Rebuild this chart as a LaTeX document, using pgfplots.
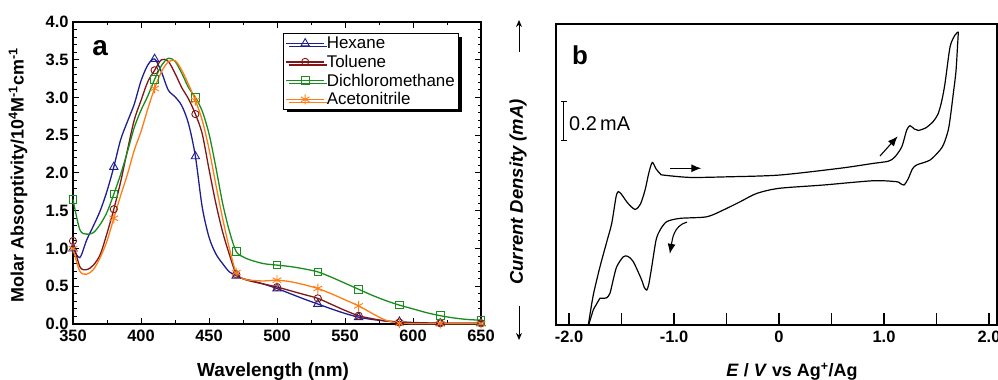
\documentclass[border=0pt]{standalone}
\usepackage{fontspec}
\setmainfont{Liberation Sans}
\usepackage{pgfplots}
\pgfplotsset{compat=1.18}
\usetikzlibrary{arrows.meta,shadows}
\definecolor{chex}{RGB}{30,30,145}
\definecolor{ctol}{RGB}{128,22,22}
\definecolor{cdcm}{RGB}{25,140,30}
\definecolor{cacn}{RGB}{255,125,20}
\newcommand\tl{\fontsize{16.5}{18}\selectfont\bfseries}
\begin{document}
\begin{tikzpicture}
\useasboundingbox (0,0) rectangle (998bp,380bp);
% ---------------- panel a ----------------
\begin{axis}[at={(73bp,56bp)}, anchor=south west, scale only axis,
  width=408bp, height=302bp,
  xmin=350, xmax=650, ymin=0, ymax=4,
  xtick={350,400,...,650}, xticklabels={350,400,450,500,550,600,650},
  ytick={0,0.5,...,4}, yticklabels={0.0,0.5,1.0,1.5,2.0,2.5,3.0,3.5,4.0},
  minor x tick num=1, minor y tick num=4,
  tick align=inside, major tick length=6bp, minor tick length=3.5bp,
  axis line style={line width=1.2bp}, every tick/.style={line width=1bp,black},
  tick label style={font=\tl},
  xticklabel style={yshift=-3bp}, yticklabel style={xshift=-1bp},
  mark indices={1,7,13,19,25,29,32,35,38,41,44},
  every axis plot/.append style={line width=1.3bp, smooth},
  legend image code/.code={\draw[#1,mark=none] (0bp,0bp) -- (38bp,0bp); \draw[#1] plot coordinates {(19bp,0bp)};},
  legend style={at={(rel axis cs:0.515,0.962)}, anchor=north west, draw=black, line width=0.8bp,
    fill=white, font=\fontsize{17}{19}\selectfont, inner xsep=2bp, inner ysep=1bp,
    row sep=1bp, legend cell align=left,
    drop shadow={shadow xshift=3bp, shadow yshift=-3bp, fill=black, opacity=1}},
  clip=false]
\addplot[chex, mark=triangle, mark size=4.8bp, mark options={fill=white, line width=0.9bp}] coordinates {
(350,1.00)(355,0.88)(360,1.11)(365,1.30)(370,1.50)(375,1.76)(380,2.08)(385,2.44)(390,2.68)(395,2.91)
(400,3.22)(405,3.43)(410,3.51)(415,3.34)(420,3.10)(425,3.01)(430,2.89)(435,2.65)(440,2.22)(445,1.55)
(450,1.15)(455,0.93)(460,0.80)(465,0.69)(470,0.64)(475,0.60)(480,0.58)(490,0.53)(500,0.47)(510,0.40)
(520,0.33)(530,0.265)(540,0.20)(550,0.14)(560,0.09)(570,0.06)(580,0.04)(590,0.03)(600,0.02)(610,0.015)
(620,0.01)(630,0.01)(640,0.01)(650,0.01)};
\addlegendentry{Hexane}
\addplot[ctol, mark=o, mark size=3.6bp, mark options={fill=white, line width=0.9bp}] coordinates {
(350,1.10)(355,0.76)(360,0.72)(365,0.78)(370,0.92)(375,1.20)(380,1.52)(385,1.88)(390,2.30)(395,2.70)
(400,2.96)(405,3.21)(410,3.36)(415,3.50)(420,3.48)(425,3.32)(430,3.13)(435,2.98)(440,2.78)(445,2.52)
(450,2.05)(455,1.60)(460,1.22)(465,0.92)(470,0.66)(475,0.60)(480,0.57)(490,0.53)(500,0.49)(510,0.44)
(520,0.39)(530,0.34)(540,0.26)(550,0.18)(560,0.11)(570,0.07)(580,0.04)(590,0.02)(600,0.01)(610,0.01)
(620,0.01)(630,0.01)(640,0.01)(650,0.01)};
\addlegendentry{Toluene}
\addplot[cdcm, mark=square, mark size=3.8bp, mark options={fill=white, line width=0.9bp}] coordinates {
(350,1.65)(355,1.25)(360,1.19)(365,1.21)(370,1.32)(375,1.48)(380,1.72)(385,1.98)(390,2.28)(395,2.60)
(400,2.83)(405,3.02)(410,3.24)(415,3.42)(420,3.52)(425,3.48)(430,3.32)(435,3.13)(440,3.00)(445,2.82)
(450,2.52)(455,2.08)(460,1.60)(465,1.23)(470,0.96)(475,0.89)(480,0.85)(490,0.80)(500,0.78)(510,0.76)
(520,0.73)(530,0.69)(540,0.62)(550,0.54)(560,0.46)(570,0.38)(580,0.31)(590,0.25)(600,0.20)(610,0.15)
(620,0.11)(630,0.08)(640,0.06)(650,0.05)};
\addlegendentry{Dichloromethane}
\addplot[cacn, mark=asterisk, mark size=5bp, mark options={line width=0.9bp}] coordinates {
(350,1.00)(355,0.70)(360,0.66)(365,0.72)(370,0.88)(375,1.10)(380,1.40)(385,1.70)(390,1.98)(395,2.30)
(400,2.55)(405,2.85)(410,3.12)(415,3.34)(420,3.47)(425,3.49)(430,3.36)(435,3.17)(440,2.96)(445,2.70)
(450,2.32)(455,1.85)(460,1.40)(465,1.00)(470,0.68)(475,0.60)(480,0.58)(490,0.57)(500,0.58)(510,0.56)
(520,0.52)(530,0.47)(540,0.40)(550,0.32)(560,0.24)(570,0.14)(580,0.05)(590,0.01)(600,0.005)(610,0.005)
(620,0.005)(630,0.005)(640,0.005)(650,0.005)};
\addlegendentry{Acetonitrile}
\node[font=\fontsize{28}{30}\selectfont\bfseries] at (axis cs:370,3.66) {a};
\end{axis}
\node[rotate=90, font=\fontsize{18}{20}\selectfont\bfseries] at (18bp,205bp)
  {Molar Absorptivity/10\textsuperscript{4}M\textsuperscript{-1}cm\textsuperscript{-1}};
\node[anchor=base, font=\fontsize{19}{21}\selectfont\bfseries] at (273bp,3.5bp) {Wavelength (nm)};
% ---------------- panel b ----------------
\begin{axis}[at={(556bp,55bp)}, anchor=south west, scale only axis,
  width=441bp, height=301bp,
  xmin=-2.124, xmax=2.076, ymin=0, ymax=1.544,
  xtick={-2,-1.5,...,2}, xticklabels={-2.0,,-1.0,,0,,1.0,,2.0},
  ytick=\empty, xtick pos=bottom,
  tick align=inside, major tick length=12bp,
  axis line style={line width=1.5bp}, every tick/.style={line width=1.4bp,black},
  tick label style={font=\tl}, xticklabel style={yshift=-3bp},
  clip=false]
\addplot[black, line width=1.2bp, smooth, tension=0.45] coordinates {
(-1.816,0.000)(-1.770,0.151)(-1.705,0.299)(-1.640,0.428)(-1.593,0.522)(-1.552,0.658)(-1.530,0.684)
(-1.500,0.670)(-1.440,0.625)(-1.371,0.593)(-1.320,0.620)(-1.276,0.692)(-1.240,0.780)(-1.207,0.834)
(-1.170,0.800)(-1.130,0.775)(-1.102,0.769)(-0.848,0.757)(-0.500,0.760)(0.000,0.769)(0.581,0.804)
(0.898,0.829)(1.040,0.840)(1.100,0.860)(1.169,0.914)(1.216,1.000)(1.248,1.022)(1.290,1.005)
(1.327,0.998)(1.400,1.012)(1.470,1.045)(1.517,1.086)(1.550,1.150)(1.581,1.240)(1.629,1.427)
(1.676,1.487)(1.708,1.504)};
\addplot[black, line width=1.2bp, smooth, tension=0.45] coordinates {
(1.708,1.504)(1.700,1.430)(1.685,1.300)(1.660,1.188)(1.635,1.080)(1.612,1.000)(1.570,0.930)
(1.533,0.897)(1.438,0.846)(1.311,0.821)(1.270,0.800)(1.230,0.750)(1.190,0.718)(1.150,0.728)
(1.121,0.735)(0.898,0.740)(0.422,0.718)(0.000,0.701)(-0.212,0.675)(-0.371,0.632)(-0.530,0.590)
(-0.689,0.555)(-0.943,0.547)(-1.070,0.530)(-1.133,0.487)(-1.171,0.436)(-1.212,0.299)(-1.240,0.210)
(-1.260,0.179)(-1.285,0.195)(-1.308,0.231)(-1.388,0.325)(-1.440,0.352)(-1.483,0.350)(-1.546,0.299)
(-1.580,0.230)(-1.610,0.163)(-1.640,0.140)(-1.680,0.137)(-1.705,0.137)(-1.740,0.105)(-1.769,0.077)
(-1.810,0.005)};
\node[font=\fontsize{26}{28}\selectfont\bfseries] at (axis cs:-1.895,1.385) {b};
\draw[line width=1bp] (axis cs:-2.048,0.944) -- (axis cs:-2.048,1.144)
  (axis cs:-2.075,0.944) -- (axis cs:-2.021,0.944)
  (axis cs:-2.075,1.144) -- (axis cs:-2.021,1.144);
\node[anchor=west, font=\fontsize{20}{22}\selectfont, inner sep=0pt] at (axis cs:-2.0,1.031) {0.2\,mA};
\draw[line width=1.1bp, -{Latex[length=10bp,width=8bp]}] (axis cs:-1.04,0.804) -- (axis cs:-0.74,0.804);
\draw[line width=1.1bp, -{Latex[length=10bp,width=8bp]}] (axis cs:-0.876,0.528) to[out=195,in=80] (axis cs:-1.04,0.365);
\draw[line width=1.1bp, -{Latex[length=10bp,width=8bp]}] (axis cs:0.962,0.867) -- (axis cs:1.13,0.968);
\end{axis}
\node[rotate=90, font=\fontsize{18.5}{20}\selectfont\bfseries\itshape] at (518bp,188bp) {Current Density (mA)};
\draw[line width=1bp, -{Stealth[length=7bp,width=6bp]}] (519bp,328bp) -- (519bp,360bp);
\draw[line width=1bp, -{Stealth[length=7bp,width=6bp]}] (519bp,74bp) -- (519bp,40bp);
\node[anchor=base, font=\fontsize{18}{20}\selectfont\bfseries] at (792bp,3.5bp)
  {\textit{E} / \textit{V} vs Ag\textsuperscript{+}/Ag};
\end{tikzpicture}
\end{document}
